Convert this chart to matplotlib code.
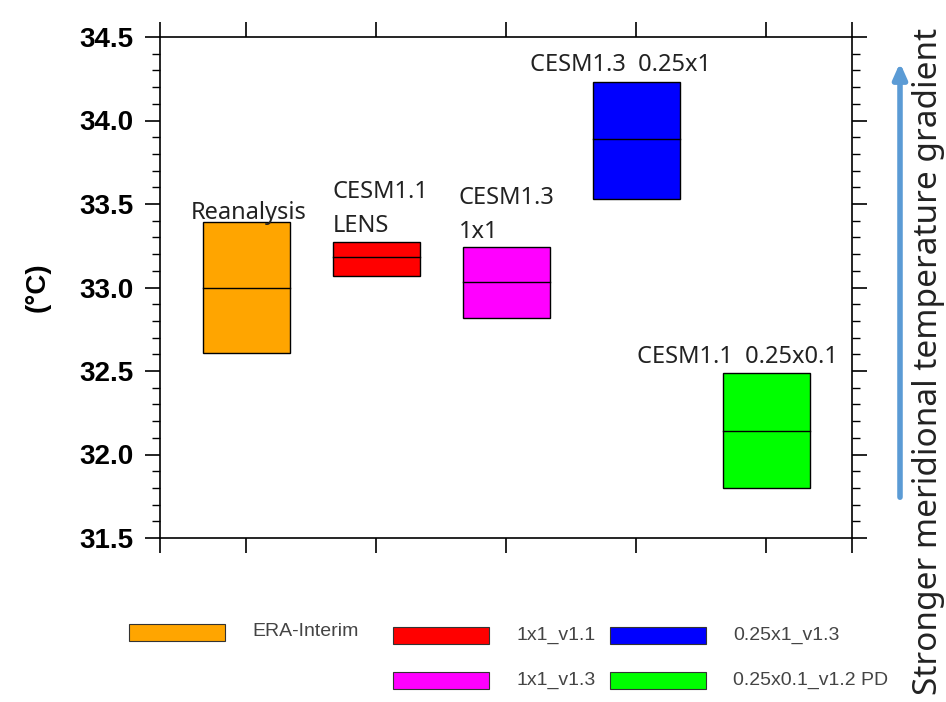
import numpy as np
import matplotlib.pyplot as plt
from matplotlib.patches import Rectangle
from matplotlib.ticker import MultipleLocator, FixedLocator, NullFormatter

# ==== DATI ====
positions = [1, 2, 3, 4, 5]
box_low = [32.61, 33.07, 32.82, 33.53, 31.80]
box_mid = [33.00, 33.18, 33.03, 33.89, 32.14]
box_high = [33.39, 33.27, 33.24, 34.23, 32.49]
box_colors = ["#FFA500", "#FF0000", "#FF00FF", "#0000FF", "#00FF00"]
legend_labels = ["ERA-Interim", "1x1_v1.1", "1x1_v1.3", "0.25x1_v1.3", "0.25x0.1_v1.2 PD"]
legend_colors = ["#FFA500", "#FF0000", "#FF00FF", "#0000FF", "#00FF00"]

W, H = 946, 702
fig = plt.figure(figsize=(W / 100, H / 100), dpi=100)

def fx(px):
    return px / W

def fy(py):
    return 1 - py / H

ax = fig.add_axes([fx(160), fy(538), fx(852) - fx(160), fy(37) - fy(538)])
xmin, xmax = 0.338, 5.66
ax.set_xlim(xmin, xmax)
ax.set_ylim(31.5, 34.5)

box_w = 0.67
for x, lo, mid, hi, c in zip(positions, box_low, box_mid, box_high, box_colors):
    ax.add_patch(Rectangle((x - box_w / 2, lo), box_w, hi - lo,
                           facecolor=c, edgecolor="black", linewidth=1.0, zorder=2))
    ax.plot([x - box_w / 2, x + box_w / 2], [mid, mid], color="black", lw=1.0, zorder=3)

# --- etichette delle scatole ---
afont = dict(family="Noto Sans", fontsize=17, color="#222222", va="baseline")
ax.text(1.02, box_high[0] + 0.02, "Reanalysis", ha="center", **afont)
ax.text(2 - box_w / 2, box_high[1] + 0.06, "CESM1.1\nLENS", ha="left",
        linespacing=1.55, **afont)
ax.text(3 - box_w / 2 - 0.03, box_high[2] + 0.056, "CESM1.3\n1x1", ha="left",
        linespacing=1.55, **afont)
ax.text(3.88, box_high[3] + 0.066, "CESM1.3  0.25x1", ha="center", **afont)
ax.text(4.78, box_high[4] + 0.058, "CESM1.1  0.25x0.1", ha="center", **afont)

# --- assi ---
ax.xaxis.set_major_locator(FixedLocator([xmin] + positions + [xmax]))
ax.xaxis.set_major_formatter(NullFormatter())
ax.yaxis.set_major_locator(MultipleLocator(0.5))
ax.yaxis.set_minor_locator(MultipleLocator(0.1))
ax.yaxis.set_major_formatter(plt.FuncFormatter(lambda v, p: f"{v:.1f}"))
ax.tick_params(axis="x", which="major", direction="out", length=11, width=1.2,
               top=True, bottom=True)
ax.tick_params(axis="y", which="major", direction="out", length=11, width=1.2,
               left=True, right=True, pad=8)
ax.tick_params(axis="y", which="minor", direction="out", length=5.5, width=1.0,
               left=True, right=True)
for lab in ax.get_yticklabels():
    lab.set_fontfamily("Liberation Sans")
    lab.set_fontweight("bold")
    lab.set_fontsize(20)
for s in ax.spines.values():
    s.set_linewidth(1.2)

fig.text(fx(38), fy(287), "(°C)", rotation=90, ha="center", va="center",
         family="Liberation Sans", fontweight="bold", fontsize=20)

# --- freccia e testo a destra ---
fig.add_artist(plt.Annotation("", xy=(fx(900), fy(60)), xytext=(fx(900), fy(500)),
                              xycoords="figure fraction", textcoords="figure fraction",
                              arrowprops=dict(arrowstyle="-|>,head_width=0.4,head_length=0.9",
                                              color="#5B9BD5", lw=4)))
fig.text(fx(945), fy(361), "Stronger meridional temperature gradient", rotation=90,
         ha="right", va="center", family="Noto Sans", fontsize=24, color="#222222")

# --- legenda manuale ---
slots = [(129, 632), (393, 635), (393, 680), (610, 635), (610, 680)]
for (px, py), lab, c in zip(slots, legend_labels, legend_colors):
    fig.add_artist(Rectangle((fx(px), fy(py + 8.5)), fx(96), 17 / H,
                             facecolor=c, edgecolor="#333333", linewidth=0.8,
                             transform=fig.transFigure))
    fig.text(fx(px + 123), fy(py), lab, ha="left", va="center",
             family="Liberation Sans", fontsize=14, color="#444444")

fig.savefig("out.png", dpi=100)
